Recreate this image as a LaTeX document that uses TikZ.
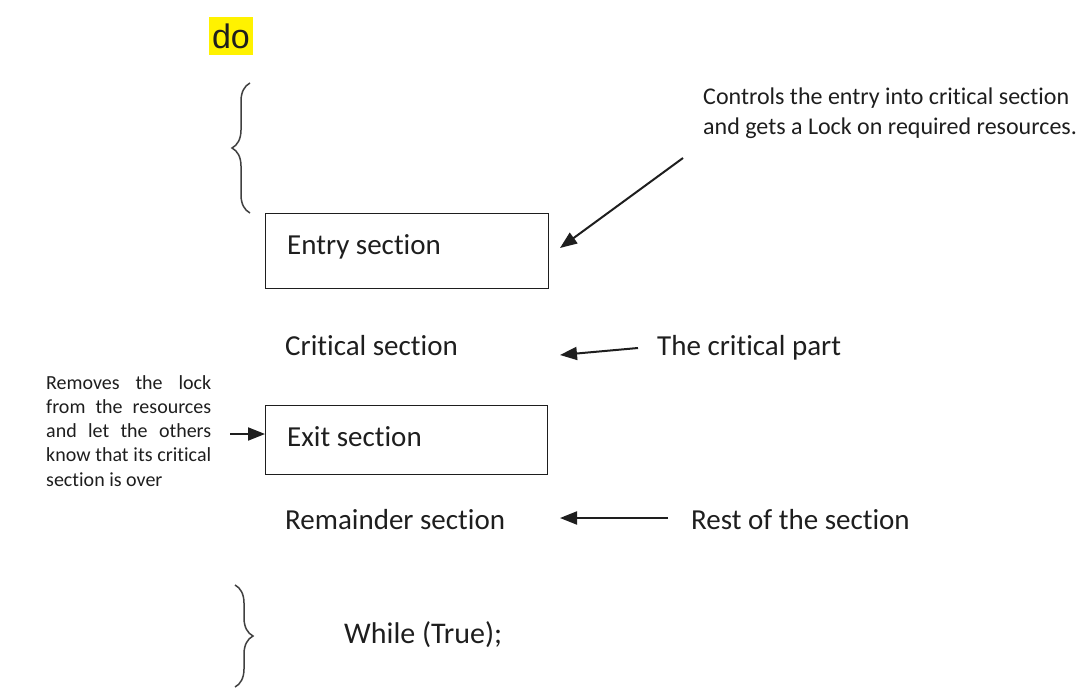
\documentclass[tikz,border=0pt]{standalone}
\usepackage{fontspec}
\setmainfont{Carlito}[Ligatures=NoCommon]
\newfontfamily\arialfont{Liberation Sans}
\usetikzlibrary{arrows.meta,decorations.pathreplacing}
\definecolor{ink}{HTML}{1E1E1E}
\begin{document}
\begin{tikzpicture}[x=1pt,y=-1pt,
  box/.style={draw=ink,line width=1.4pt,inner sep=0pt},
  label/.style={inner sep=0pt,anchor=base west,text=ink,font=\fontsize{29}{34}\selectfont},
  pointer/.style={draw=ink,line width=2pt,-{Triangle[length=17pt,width=13pt]}},
  curly/.style={decorate,decoration={brace,amplitude=18pt,aspect=0.5},line width=1.5pt,draw=black!75}]
\useasboundingbox (0,0) rectangle (1081,688);

% keyword with highlight
\node[fill=yellow,inner xsep=3.5pt,inner ysep=0pt,minimum height=38pt,font=\arialfont\fontsize{34}{34}\selectfont,text=ink] (do) at (231,36) {do};

% opening brace
\coordinate (obtop) at (250,83);
\coordinate (obbot) at (250,213);
\draw[curly] (obbot) -- (obtop);

% section frames
\node[box,anchor=north west,minimum width=283pt,minimum height=75pt] (entry) at (265,213) {};
\node[box,anchor=north west,minimum width=282pt,minimum height=69pt] (exit) at (265,405) {};

% section texts
\node[label] (entrytxt) at (287,254) {Entry section};
\node[label] (crit) at (285,355) {Critical section};
\node[label] (exittxt) at (287,446) {Exit section};
\node[label] (rem) at (285,529) {Remainder section};

% closing brace and loop condition
\coordinate (cbtop) at (235,585);
\coordinate (cbbot) at (235,687);
\draw[curly] (cbtop) -- (cbbot);
\node[label,font=\fontsize{30}{34}\selectfont] (while) at (344,643) {While (True);};

% annotations on the right (base anchor = baseline of the last line)
\node[inner sep=0pt,anchor=base west,align=left,text=ink,font=\fontsize{24}{29.5}\selectfont] (ctrl) at (703,134)
  {Controls the entry into critical section\\and gets a Lock on required resources.};
\node[label] (part) at (657,355) {The critical part};
\node[label] (rest) at (691,529) {Rest of the section};

% annotation on the left, justified line by line
\node[inner sep=0pt,anchor=base west,align=left,text=ink,font=\fontsize{20}{24.2}\selectfont] (rmv) at (46,486)
  {\makebox[165pt][s]{Removes the lock}\\
   \makebox[165pt][s]{from the resources}\\
   \makebox[165pt][s]{and let the others}\\
   \makebox[165pt][s]{know that its critical}\\
   section is over};

% arrows
\coordinate (a1s) at (683,158);
\coordinate (a1e) at (560,248);
\draw[pointer] (a1s) -- (a1e);
\coordinate (a2s) at (638,348);
\coordinate (a2e) at (560,355);
\draw[pointer] (a2s) -- (a2e);
\coordinate (a3s) at (668,518);
\coordinate (a3e) at (560,518);
\draw[pointer] (a3s) -- (a3e);
\coordinate (a4s) at (230,434);
\draw[pointer] (a4s) -- (exit.west|-a4s);
\end{tikzpicture}
\end{document}
